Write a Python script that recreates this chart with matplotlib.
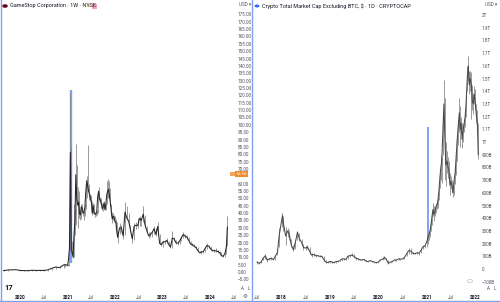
import matplotlib
matplotlib.use('Agg')
import matplotlib.pyplot as plt
import pandas as pd
from matplotlib.patches import Circle, Rectangle

plt.rcParams['font.family'] = ['Roboto', 'DejaVu Sans']

# ---------------- DATA ----------------
left_title = "GameStop Corporation · 1W · NYSE"
right_title = "Crypto Total Market Cap Excluding BTC, $ · 1D · CRYPTOCAP"

gme_dates = ["2019-08-02", "2019-09-01", "2019-10-01", "2019-11-01", "2019-12-01", "2020-01-01",
             "2020-02-01", "2020-03-01", "2020-04-01", "2020-05-01", "2020-06-01", "2020-07-01",
             "2020-08-01", "2020-09-01", "2020-10-01", "2020-11-01", "2020-12-01", "2020-12-15",
             "2021-01-01", "2021-01-08", "2021-01-15", "2021-01-22", "2021-01-29", "2021-02-05",
             "2021-02-12", "2021-02-19", "2021-02-26", "2021-03-05", "2021-03-12", "2021-03-19",
             "2021-03-26", "2021-04-02", "2021-04-09", "2021-04-16", "2021-04-23", "2021-04-30",
             "2021-05-07", "2021-05-14", "2021-05-21", "2021-05-28", "2021-06-04", "2021-06-11",
             "2021-06-18", "2021-06-25", "2021-07-02", "2021-07-09", "2021-07-16", "2021-07-23",
             "2021-07-30", "2021-08-06", "2021-08-13", "2021-08-20", "2021-08-27", "2021-09-03",
             "2021-09-10", "2021-09-17", "2021-09-24", "2021-10-01", "2021-10-08", "2021-10-15",
             "2021-10-22", "2021-10-29", "2021-11-05", "2021-11-12", "2021-11-19", "2021-11-26",
             "2021-12-03", "2021-12-10", "2021-12-17", "2021-12-24", "2021-12-31", "2022-01-07",
             "2022-01-14", "2022-01-21", "2022-02-04", "2022-02-18", "2022-03-04", "2022-03-18",
             "2022-04-01", "2022-04-15", "2022-04-29", "2022-05-13", "2022-05-27", "2022-06-10",
             "2022-06-24", "2022-07-08", "2022-07-22", "2022-08-05", "2022-08-19", "2022-09-02",
             "2022-09-16", "2022-09-30", "2022-10-14", "2022-10-28", "2022-11-11", "2022-11-25",
             "2022-12-09", "2022-12-23", "2023-01-06", "2023-01-20", "2023-02-03", "2023-02-17",
             "2023-03-03", "2023-03-17", "2023-03-31", "2023-04-14", "2023-04-28", "2023-05-12",
             "2023-05-26", "2023-06-09", "2023-06-23", "2023-07-07", "2023-07-21", "2023-08-04",
             "2023-08-18", "2023-09-01", "2023-09-15", "2023-09-29", "2023-10-13", "2023-10-27",
             "2023-11-10", "2023-11-24", "2023-12-08", "2023-12-22", "2024-01-05", "2024-01-19",
             "2024-02-02", "2024-02-16", "2024-03-01", "2024-03-15", "2024-03-29", "2024-04-12",
             "2024-04-26", "2024-05-06", "2024-05-13"]
gme_close = [0.95, 1.00, 1.40, 1.45, 1.55, 1.10, 0.95, 0.90, 1.20, 1.05, 1.10, 1.05,
             1.40, 2.50, 3.40, 3.00, 4.80, 5.00, 4.40, 8.90, 16.3, 81.2, 15.9, 13.1,
             10.2, 25.4, 34.4, 66.1, 50.0, 45.4, 47.5, 39.6, 38.7, 44.3, 43.4, 40.0,
             40.2, 44.2, 55.1, 62.0, 58.4, 55.0, 52.5, 50.3, 48.0, 40.0, 45.0, 40.0,
             39.3, 39.5, 41.0, 51.2, 54.7, 49.7, 49.0, 46.5, 43.0, 44.0, 47.0, 42.5,
             45.9, 52.5, 55.0, 56.2, 51.0, 46.7, 41.0, 36.0, 37.8, 37.0, 34.0, 34.0,
             27.3, 23.5, 30.0, 30.0, 24.5, 40.7, 36.6, 34.7, 28.6, 22.5, 31.0, 31.8,
             31.5, 36.5, 35.0, 39.3, 32.0, 28.0, 24.5, 25.5, 27.0, 29.5, 25.5, 31.0,
             19.5, 18.5, 20.6, 20.4, 21.5, 18.7, 17.0, 23.0, 22.5, 19.8, 19.5, 21.0,
             23.4, 25.5, 24.3, 23.7, 21.5, 19.0, 18.6, 17.6, 16.6, 14.5, 13.1, 13.7,
             13.8, 16.0, 18.0, 17.5, 15.8, 14.5, 14.5, 14.3, 14.0, 13.2, 11.1, 10.7,
             12.9, 17.5, 30.45]
gme_high = [1.05, 1.15, 1.55, 1.60, 1.65, 1.60, 1.20, 1.10, 1.40, 1.30, 1.25, 1.20,
            1.60, 2.75, 3.60, 4.00, 5.30, 5.20, 5.40, 9.50, 19.3, 120.7, 85.5, 21.2,
            12.5, 46.0, 43.0, 87.1, 73.0, 58.0, 55.0, 48.0, 42.0, 46.0, 46.0, 42.0,
            41.0, 46.0, 60.0, 65.0, 86.2, 60.0, 57.0, 53.0, 52.0, 48.0, 47.0, 46.0,
            41.0, 41.0, 42.0, 56.0, 58.0, 55.0, 51.0, 50.0, 47.0, 45.0, 48.0, 47.0,
            47.0, 62.0, 63.5, 62.0, 57.0, 53.0, 46.0, 41.0, 40.0, 39.0, 38.0, 36.0,
            34.0, 28.0, 33.0, 32.0, 30.0, 47.5, 45.0, 40.0, 32.0, 26.0, 33.0, 34.0,
            37.0, 38.0, 37.0, 44.6, 39.0, 31.0, 27.0, 27.0, 28.0, 31.0, 30.0, 34.0,
            26.0, 20.5, 21.0, 22.0, 23.0, 21.0, 19.0, 27.6, 24.0, 22.0, 21.0, 22.0,
            24.5, 27.0, 25.5, 25.0, 23.5, 21.0, 19.5, 19.0, 17.5, 16.8, 14.5, 14.2,
            14.5, 16.5, 19.5, 18.5, 17.5, 15.5, 15.5, 16.0, 15.0, 14.5, 13.5, 11.5,
            13.5, 19.0, 38.2]
gme_low = [0.80, 0.90, 1.00, 1.30, 1.40, 1.00, 0.90, 0.70, 0.70, 0.95, 0.95, 0.95,
           1.00, 1.40, 2.20, 2.50, 3.00, 3.70, 4.20, 4.20, 8.80, 15.0, 13.0, 11.5,
           9.70, 10.0, 25.0, 32.0, 48.0, 30.0, 42.0, 37.0, 35.0, 36.0, 40.0, 38.0,
           35.0, 38.0, 43.0, 50.0, 55.0, 51.0, 49.0, 48.0, 46.0, 39.0, 40.0, 39.5,
           37.5, 38.0, 38.5, 40.0, 50.0, 48.5, 47.0, 45.0, 42.0, 41.5, 43.0, 42.0,
           42.0, 46.0, 50.0, 51.0, 50.0, 45.0, 38.0, 33.5, 35.0, 36.0, 33.0, 30.0,
           26.0, 19.5, 26.0, 27.0, 22.5, 25.0, 35.0, 33.0, 27.0, 19.4, 22.0, 29.0,
           30.0, 31.0, 31.5, 34.0, 30.0, 27.0, 23.0, 24.0, 24.0, 26.0, 24.5, 25.0,
           19.0, 17.5, 17.0, 19.0, 20.0, 18.0, 16.0, 16.5, 21.0, 19.0, 18.5, 19.0,
           21.0, 23.0, 23.0, 22.5, 21.0, 18.5, 17.5, 17.0, 16.0, 14.0, 12.8, 12.5,
           12.6, 13.5, 15.5, 16.5, 15.0, 14.0, 13.9, 13.8, 13.0, 12.7, 10.9, 10.0,
           10.5, 12.5, 17.5]
gme_highlight_date = "2021-01-25"
gme_highlight_range = [6.0, 123.5]
gme_price_ticks = [175, 170, 165, 160, 155, 150, 145, 140, 135, 130, 125, 120, 115, 110, 105, 100,
                   95, 90, 85, 80, 75, 70, 60, 55, 50, 45, 40, 35, 30, 25, 20, 15, 10, 5, 0, -5]
gme_extended_price = "66.56"
gme_extended_value = 66.6

gme_time_ticks = ["2020-01-01", "2020-07-01", "2021-01-01", "2021-07-01", "2022-01-01",
                  "2022-07-01", "2023-01-01", "2023-07-01", "2024-01-01", "2024-07-01"]
gme_time_labels = ["2020", "Jul", "2021", "Jul", "2022", "Jul", "2023", "Jul", "2024", "Jul"]

# TOTAL2 in billions USD
t2_dates = ["2017-07-01", "2017-07-15", "2017-08-01", "2017-08-15", "2017-09-01", "2017-09-15",
            "2017-10-01", "2017-10-15", "2017-11-01", "2017-11-15", "2017-12-01", "2017-12-15",
            "2018-01-01", "2018-01-08", "2018-01-15", "2018-02-01", "2018-02-15", "2018-03-01",
            "2018-03-15", "2018-04-01", "2018-04-15", "2018-05-01", "2018-05-15", "2018-06-01",
            "2018-06-15", "2018-07-01", "2018-07-15", "2018-08-01", "2018-08-15", "2018-09-01",
            "2018-09-15", "2018-10-01", "2018-10-15", "2018-11-01", "2018-11-15", "2018-12-01",
            "2018-12-15", "2019-01-01", "2019-01-15", "2019-02-01", "2019-02-15", "2019-03-01",
            "2019-03-15", "2019-04-01", "2019-04-15", "2019-05-01", "2019-05-15", "2019-06-01",
            "2019-06-15", "2019-07-01", "2019-07-15", "2019-08-01", "2019-08-15", "2019-09-01",
            "2019-09-15", "2019-10-01", "2019-10-15", "2019-11-01", "2019-11-15", "2019-12-01",
            "2019-12-15", "2020-01-01", "2020-01-15", "2020-02-01", "2020-02-15", "2020-03-01",
            "2020-03-15", "2020-04-01", "2020-04-15", "2020-05-01", "2020-05-15", "2020-06-01",
            "2020-06-15", "2020-07-01", "2020-07-15", "2020-08-01", "2020-08-15", "2020-09-01",
            "2020-09-15", "2020-10-01", "2020-10-15", "2020-11-01", "2020-11-15", "2020-12-01",
            "2020-12-15", "2021-01-01", "2021-01-08", "2021-01-15", "2021-01-22", "2021-02-01",
            "2021-02-08", "2021-02-15", "2021-02-22", "2021-03-01", "2021-03-08", "2021-03-15",
            "2021-03-22", "2021-04-01", "2021-04-08", "2021-04-15", "2021-04-22", "2021-05-01",
            "2021-05-08", "2021-05-15", "2021-05-22", "2021-06-01", "2021-06-08", "2021-06-15",
            "2021-06-22", "2021-07-01", "2021-07-08", "2021-07-15", "2021-07-22", "2021-08-01",
            "2021-08-08", "2021-08-15", "2021-08-22", "2021-09-01", "2021-09-08", "2021-09-15",
            "2021-09-22", "2021-10-01", "2021-10-08", "2021-10-15", "2021-10-22", "2021-11-01",
            "2021-11-08", "2021-11-15", "2021-11-22", "2021-12-01", "2021-12-08", "2021-12-15",
            "2021-12-22", "2022-01-01", "2022-01-08", "2022-01-15", "2022-01-22"]
t2_close = [55, 45, 55, 85, 105, 70, 80, 85, 75, 100, 130, 270,
            380, 420, 360, 260, 300, 270, 190, 150, 210, 290, 240, 210,
            170, 165, 175, 140, 110, 115, 105, 105, 100, 100, 75, 55,
            50, 60, 55, 50, 60, 60, 65, 80, 80, 75, 100, 105,
            110, 100, 85, 80, 72, 72, 75, 62, 60, 66, 60, 55,
            50, 55, 72, 78, 92, 75, 45, 55, 60, 72, 70, 80,
            78, 80, 92, 120, 145, 140, 125, 120, 128, 125, 145, 175,
            180, 220, 250, 270, 290, 360, 420, 470, 430, 450, 490, 500,
            520, 620, 720, 800, 850, 1100, 1300, 1050, 820, 850, 800, 780,
            660, 690, 650, 600, 680, 760, 880, 1000, 1100, 1230, 1100, 1150,
            1020, 1100, 1150, 1200, 1300, 1520, 1600, 1450, 1500, 1450, 1320, 1300,
            1380, 1300, 1200, 1150, 900]
t2_high = [62, 52, 60, 95, 115, 90, 85, 95, 85, 110, 150, 320,
           440, 445, 420, 330, 320, 310, 240, 190, 230, 300, 280, 240,
           200, 180, 190, 170, 130, 125, 115, 110, 110, 105, 100, 70,
           60, 65, 62, 55, 65, 64, 68, 85, 85, 82, 110, 115,
           130, 115, 95, 90, 80, 78, 80, 68, 66, 72, 66, 58,
           55, 58, 75, 85, 102, 85, 70, 58, 65, 78, 75, 85,
           82, 84, 98, 130, 165, 165, 135, 128, 135, 132, 160, 190,
           190, 260, 280, 300, 320, 390, 460, 520, 500, 480, 520, 540,
           560, 650, 760, 900, 880, 1200, 1490, 1350, 1000, 930, 880, 850,
           760, 730, 700, 650, 700, 800, 920, 1050, 1150, 1350, 1280, 1200,
           1150, 1140, 1180, 1250, 1380, 1600, 1680, 1560, 1560, 1550, 1450, 1380,
           1440, 1420, 1300, 1250, 1150]
t2_low = [40, 38, 45, 70, 80, 55, 70, 75, 70, 75, 110, 170,
          330, 360, 300, 190, 250, 230, 170, 140, 160, 230, 220, 190,
          150, 150, 155, 120, 95, 100, 95, 100, 95, 95, 65, 50,
          45, 50, 50, 48, 50, 56, 60, 65, 75, 72, 80, 95,
          100, 90, 75, 75, 68, 68, 70, 55, 56, 60, 55, 50,
          46, 50, 60, 72, 80, 70, 38, 45, 55, 60, 65, 72,
          74, 76, 80, 100, 120, 120, 115, 115, 118, 110, 125, 160,
          165, 170, 200, 230, 250, 300, 350, 420, 380, 420, 440, 470,
          480, 540, 640, 700, 680, 900, 1100, 700, 650, 760, 720, 700,
          580, 640, 610, 570, 580, 670, 740, 850, 980, 1080, 960, 1060,
          950, 1000, 1080, 1120, 1200, 1400, 1480, 1380, 1400, 1180, 1250, 1220,
          1300, 1250, 1150, 1080, 870]
t2_highlight_date = "2021-01-12"
t2_highlight_range = [213, 1118]
t2_price_ticks = [2000, 1900, 1800, 1700, 1600, 1500, 1400, 1300, 1200, 1100, 1000,
                  900, 800, 700, 600, 500, 400, 300, 200, 100, 0, -100]
t2_price_labels = ["2T", "1.9T", "1.8T", "1.7T", "1.6T", "1.5T", "1.4T", "1.3T", "1.2T", "1.1T", "1T",
                   "900B", "800B", "700B", "600B", "500B", "400B", "300B", "200B", "100B", "0", "\u2212100B"]
t2_time_ticks = ["2017-07-01", "2018-01-01", "2018-07-01", "2019-01-01", "2019-07-01",
                 "2020-01-01", "2020-07-01", "2021-01-01", "2021-07-01", "2022-01-01"]
t2_time_labels = ["Jul", "2018", "Jul", "2019", "Jul", "2020", "Jul", "2021", "Jul", "2022"]

# ---------------- FIGURE ----------------
W, H = 500, 302
fig = plt.figure(figsize=(W / 100, H / 100), dpi=100)
fig.patch.set_facecolor('white')

TXT = '#131722'
AX_TXT = '#50535e'
BLUE = '#7ea3ee'


def fx(x):
    return x / W


def fy(y):
    return 1 - y / H


def add_ax(x0, y0, x1, y1):
    return fig.add_axes([fx(x0), fy(y1), (x1 - x0) / W, (y1 - y0) / H])


def style(ax, ypad):
    for s in ax.spines.values():
        s.set_visible(False)
    ax.set_facecolor('white')
    ax.yaxis.tick_right()
    ax.tick_params(axis='y', length=0, pad=ypad, labelsize=3.3, labelcolor=AX_TXT)
    ax.tick_params(axis='x', length=0, pad=2.6, labelsize=3.3, labelcolor=AX_TXT)


def year_bold(ax):
    for lab in ax.get_xticklabels():
        if lab.get_text().isdigit():
            lab.set_fontweight('bold')
            lab.set_color(TXT)


# ---- left panel (GME weekly) ----
axl = add_ax(3, 12, 235, 291)
style(axl, 2.2)
gd = pd.to_datetime(gme_dates)
axl.vlines(pd.to_datetime([gme_highlight_date]), gme_highlight_range[0], gme_highlight_range[1],
           color=BLUE, lw=1.7, zorder=1)
axl.vlines(gd, gme_low, gme_high, color='#8c8c8c', lw=0.6, zorder=2)
axl.plot(gd, gme_close, color='#262626', lw=0.75, zorder=3)
axl.set_xlim(pd.Timestamp("2019-08-23"), pd.Timestamp("2024-07-11"))
axl.set_ylim(-12.9, 176.6)
axl.set_yticks(gme_price_ticks)
axl.set_yticklabels([f"{v:.2f}".replace('-', '\u2212') for v in gme_price_ticks])
axl.set_xticks(pd.to_datetime(gme_time_ticks))
axl.set_xticklabels(gme_time_labels)
year_bold(axl)

# ---- right panel (TOTAL2) ----
axr = add_ax(253, 12, 480, 291)
style(axr, 1.5)
td = pd.to_datetime(t2_dates)
axr.vlines(pd.to_datetime([t2_highlight_date]), t2_highlight_range[0], t2_highlight_range[1],
           color=BLUE, lw=1.4, zorder=1)
axr.vlines(td, t2_low, t2_high, color='#8c8c8c', lw=0.6, zorder=2)
axr.plot(td, t2_close, color='#4a4a4a', lw=0.75, zorder=3)
axr.set_xlim(pd.Timestamp("2017-05-31"), pd.Timestamp("2022-02-04"))
axr.set_ylim(-173, 2024)
axr.set_yticks(t2_price_ticks)
axr.set_yticklabels(t2_price_labels)
axr.set_xticks(pd.to_datetime(t2_time_ticks))
axr.set_xticklabels(t2_time_labels)
year_bold(axr)

# ---- titles / header ----
fig.patches.append(Circle((fx(5), fy(6)), 2.4 / W, transform=fig.transFigure,
                          facecolor='#1a1a1a', edgecolor='#c8102e', lw=0.6))
fig.text(fx(9.5), fy(6), left_title, fontsize=4, color=TXT, va='center', ha='left')
fig.patches.append(Circle((fx(89), fy(6)), 1.2 / W, transform=fig.transFigure,
                          facecolor='#f7a600', edgecolor='none'))
fig.patches.append(Rectangle((fx(92), fy(8.5)), 5 / W, 5 / H, transform=fig.transFigure,
                             facecolor='#f4a3b8', edgecolor='none'))
fig.patches.append(Circle((fx(257), fy(6)), 2.4 / W, transform=fig.transFigure,
                          facecolor='#2962ff', edgecolor='none'))
fig.text(fx(261.5), fy(6), right_title, fontsize=4, color=TXT, va='center', ha='left')

fig.text(fx(239), fy(5), "USD \u25be", fontsize=3.3, color=AX_TXT, va='center', ha='left')
fig.text(fx(485), fy(5), "USD \u25be", fontsize=3.3, color=AX_TXT, va='center', ha='left')

# extended-hours label on left price scale
ey = fy(272 - gme_extended_value * 1.472)
fig.text(fx(236.5), ey, gme_extended_price, fontsize=3.1, color='white', va='center', ha='left',
         bbox=dict(boxstyle='square,pad=0.25', facecolor='#f08c2c', edgecolor='none'))
fig.patches.append(Rectangle((fx(230), ey - 2.2 / H), 5.5 / W, 4.4 / H, transform=fig.transFigure,
                             facecolor='#f5a55b', edgecolor='none'))

# TradingView logo and scale buttons
fig.text(fx(4), fy(287), "17", fontsize=5.5, fontweight='bold', color='#131722', va='center', ha='left')
for xa in (241, 487):
    fig.text(fx(xa), fy(288), "A", fontsize=3.3, color=AX_TXT, va='center', ha='left')
    fig.text(fx(xa + 7), fy(288), "L", fontsize=3.3, color=AX_TXT, va='center', ha='left')
fig.text(fx(245), fy(297), "\u2699", fontsize=4, color=AX_TXT, va='center', ha='center')
fig.patches.append(Circle((fx(470), fy(281)), 2.6 / W, transform=fig.transFigure,
                          facecolor='white', edgecolor='#c0c3cc', lw=0.5))

# selected-panel frame lines
fig.add_artist(plt.Line2D([fx(0.7), fx(0.7)], [0, 1], color=BLUE, lw=1.0))
fig.add_artist(plt.Line2D([fx(251.5), fx(251.5)], [0, 1], color=BLUE, lw=1.0))
fig.add_artist(plt.Line2D([0, 1], [fy(301.3), fy(301.3)], color=BLUE, lw=1.0))

fig.savefig("out.png", dpi=100, facecolor='white')
